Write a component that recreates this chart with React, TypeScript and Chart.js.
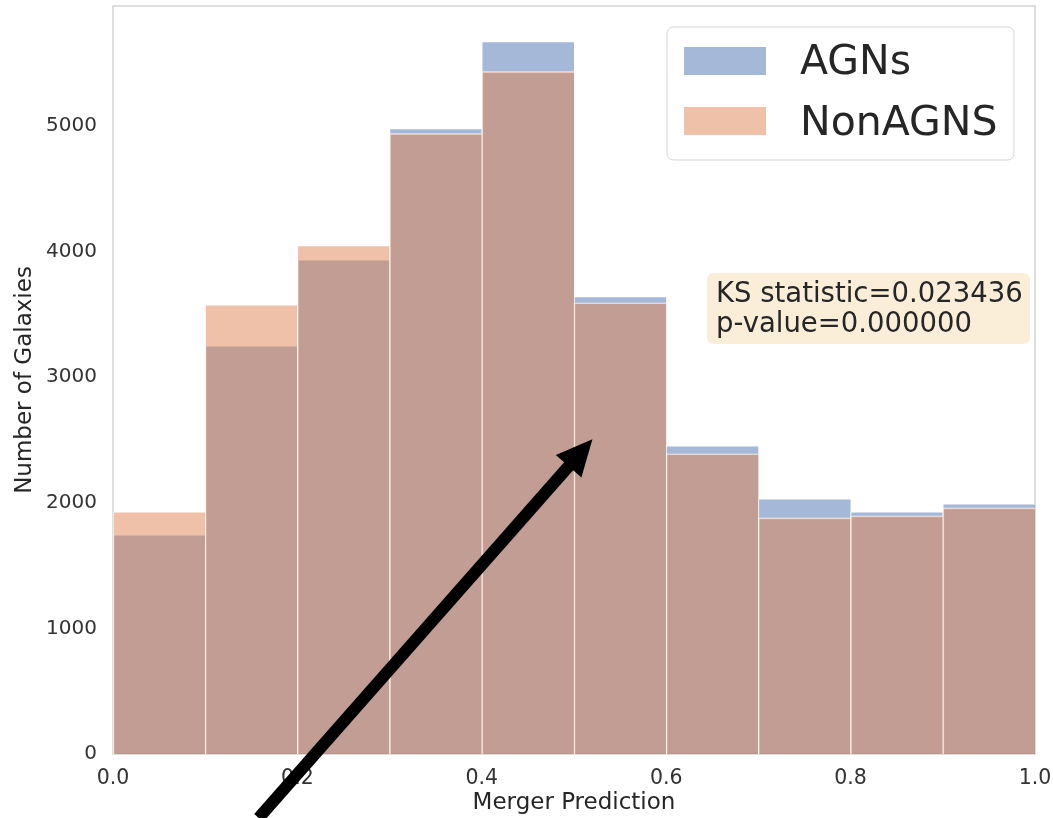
import React, { useEffect, useRef } from "react";
import { Chart, registerables } from "chart.js";

Chart.register(...registerables);

const binCenters = [0.05, 0.15, 0.25, 0.35, 0.45, 0.55, 0.65, 0.75, 0.85, 0.95];
const agnCounts = [1744, 3248, 3933, 4976, 5669, 3639, 2452, 2030, 1927, 1990];
const nonAgnCounts = [1927, 3575, 4045, 4936, 5430, 3591, 2389, 1879, 1895, 1959];
const xTicks = [0, 0.2, 0.4, 0.6, 0.8, 1.0];
const yTicks = [0, 1000, 2000, 3000, 4000, 5000];
const seriesLabels = ["AGNs", "NonAGNS"];
const seriesColors = ["rgba(76,114,176,0.5)", "rgba(221,132,82,0.5)"];
const statLines = ["KS statistic=0.023436", "p-value=0.000000"];
const arrowTail = { x: 0.158, y: -509 };
const arrowTip = { x: 0.52, y: 2504 };

const FONT = "'DejaVu Sans', sans-serif";
const TEXT = "#262626";
const TICK = "#333333";

function roundRect(ctx: CanvasRenderingContext2D, x: number, y: number, w: number, h: number, r: number) {
  ctx.beginPath();
  ctx.moveTo(x + r, y);
  ctx.lineTo(x + w - r, y);
  ctx.quadraticCurveTo(x + w, y, x + w, y + r);
  ctx.lineTo(x + w, y + h - r);
  ctx.quadraticCurveTo(x + w, y + h, x + w - r, y + h);
  ctx.lineTo(x + r, y + h);
  ctx.quadraticCurveTo(x, y + h, x, y + h - r);
  ctx.lineTo(x, y + r);
  ctx.quadraticCurveTo(x, y, x + r, y);
  ctx.closePath();
}

const overlayPlugin = {
  id: "overlay",
  beforeDatasetsDraw(chart: any) {
    const { ctx, chartArea } = chart;
    ctx.save();
    ctx.strokeStyle = "#cccccc";
    ctx.lineWidth = 1.25;
    ctx.strokeRect(chartArea.left, chartArea.top, chartArea.right - chartArea.left, chartArea.bottom - chartArea.top);
    ctx.restore();
  },
  afterDraw(chart: any) {
    const { ctx, chartArea } = chart;
    const xs = chart.scales.x;
    const ys = chart.scales.y;
    ctx.save();

    // Legend
    const lx = chartArea.right - 368;
    const ly = chartArea.top + 21;
    roundRect(ctx, lx, ly, 347, 133, 7);
    ctx.fillStyle = "rgba(255,255,255,0.8)";
    ctx.fill();
    ctx.strokeStyle = "#d6d6d6";
    ctx.lineWidth = 1;
    ctx.stroke();
    ctx.font = `41px ${FONT}`;
    ctx.textBaseline = "alphabetic";
    ctx.textAlign = "left";
    seriesLabels.forEach((lab, i) => {
      ctx.fillStyle = seriesColors[i];
      ctx.fillRect(lx + 17, ly + 20 + i * 60, 82, 28);
      ctx.fillStyle = TEXT;
      ctx.fillText(lab, lx + 133, ly + 47 + i * 61);
    });

    // KS box
    const bx = chartArea.left + 594;
    const by = chartArea.top + 267;
    roundRect(ctx, bx, by, 323, 71, 7);
    ctx.fillStyle = "rgba(245,222,179,0.5)";
    ctx.fill();
    ctx.fillStyle = TEXT;
    ctx.font = `27.5px ${FONT}`;
    statLines.forEach((s, i) => {
      ctx.fillText(s, bx + 9, by + 29 + i * 30);
    });

    // Arrow
    const x0 = xs.getPixelForValue(arrowTail.x);
    const y0 = ys.getPixelForValue(arrowTail.y);
    const x1 = xs.getPixelForValue(arrowTip.x);
    const y1 = ys.getPixelForValue(arrowTip.y);
    const len = Math.hypot(x1 - x0, y1 - y0);
    const ux = (x1 - x0) / len;
    const uy = (y1 - y0) / len;
    const headLen = 36;
    const headHalf = 17;
    const bxh = x1 - ux * headLen;
    const byh = y1 - uy * headLen;
    ctx.strokeStyle = "#000";
    ctx.lineWidth = 12;
    ctx.lineCap = "butt";
    ctx.beginPath();
    ctx.moveTo(x0, y0);
    ctx.lineTo(bxh + ux * 2, byh + uy * 2);
    ctx.stroke();
    ctx.fillStyle = "#000";
    ctx.beginPath();
    ctx.moveTo(x1, y1);
    ctx.lineTo(bxh - uy * headHalf, byh + ux * headHalf);
    ctx.lineTo(bxh + uy * headHalf, byh - ux * headHalf);
    ctx.closePath();
    ctx.fill();

    ctx.restore();
  },
};

export default function App() {
  const canvasRef = useRef<HTMLCanvasElement | null>(null);

  useEffect(() => {
    document.body.style.margin = "0";
    const canvas = canvasRef.current;
    if (!canvas) return;
    const makeData = (vals: number[]) => binCenters.map((c, i) => ({ x: c, y: vals[i] }));
    const barStyle = {
      borderColor: "rgba(255,255,255,0.85)",
      borderWidth: { top: 1, left: 1, right: 0, bottom: 0 },
      borderSkipped: false,
      barPercentage: 1,
      categoryPercentage: 1,
      grouped: false,
    };
    const chart = new Chart(canvas, {
      type: "bar",
      data: {
        datasets: [
          { label: seriesLabels[0], data: makeData(agnCounts), backgroundColor: seriesColors[0], order: 2, ...barStyle },
          { label: seriesLabels[1], data: makeData(nonAgnCounts), backgroundColor: seriesColors[1], order: 1, ...barStyle },
        ],
      } as any,
      options: {
        animation: false,
        responsive: true,
        maintainAspectRatio: false,
        layout: { padding: { left: 0, right: 18, top: 6, bottom: 0 } },
        plugins: { legend: { display: false }, tooltip: { enabled: false } },
        scales: {
          x: {
            type: "linear",
            min: 0,
            max: 1,
            offset: false,
            grid: { display: false, drawTicks: false },
            border: { display: false },
            afterBuildTicks: (s: any) => {
              s.ticks = xTicks.map((v) => ({ value: v }));
            },
            afterFit: (s: any) => {
              s.height = 64;
              s.paddingLeft = 0;
              s.paddingRight = 0;
              s.paddingTop = 0;
              s.paddingBottom = 0;
            },
            ticks: {
              padding: 12,
              color: TICK,
              font: { family: FONT, size: 20.5 },
              maxRotation: 0,
              callback: (v: any) => Number(v).toFixed(1),
            },
            title: {
              display: true,
              text: "Merger Prediction",
              color: TEXT,
              font: { family: FONT, size: 23 },
              padding: { top: 1, bottom: 1 },
            },
          },
          y: {
            type: "linear",
            min: 0,
            max: 5952,
            grid: { display: false, drawTicks: false },
            border: { display: false },
            afterBuildTicks: (s: any) => {
              s.ticks = yTicks.map((v) => ({ value: v }));
            },
            afterFit: (s: any) => {
              s.width = 113;
              s.paddingLeft = 0;
              s.paddingRight = 0;
              s.paddingTop = 0;
              s.paddingBottom = 0;
            },
            ticks: {
              padding: 16,
              color: TICK,
              font: { family: FONT, size: 20 },
              callback: (v: any) => String(v),
            },
            title: {
              display: true,
              text: "Number of Galaxies",
              color: TEXT,
              font: { family: FONT, size: 23 },
              padding: { top: 11, bottom: 0 },
            },
          },
        },
      } as any,
      plugins: [overlayPlugin],
    });
    return () => chart.destroy();
  }, []);

  return (
    <div style={{ position: "relative", width: "1053px", height: "818px" }}>
      <canvas ref={canvasRef} />
    </div>
  );
}
